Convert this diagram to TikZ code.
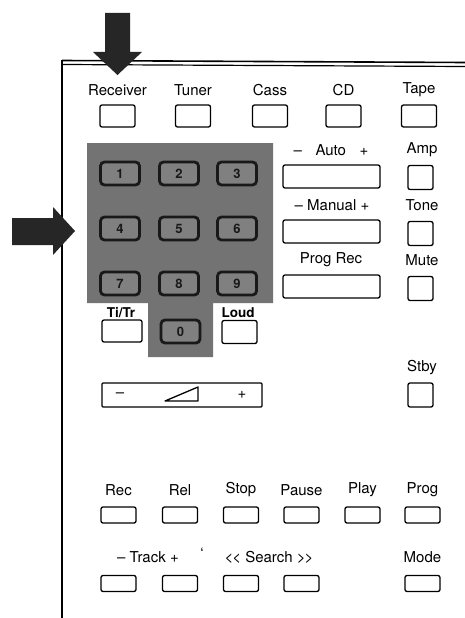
\documentclass[tikz,border=0pt]{standalone}
\usepackage{fontspec}
\setsansfont{TeX Gyre Heros}
\renewcommand{\familydefault}{\sfdefault}
\begin{document}
\begin{tikzpicture}[x=1pt,y=-1pt,
  lbl/.style={inner sep=0pt, font=\fontsize{15}{17}\selectfont},
  slbl/.style={inner sep=0pt, font=\fontsize{13.5}{15}\selectfont\bfseries},
  btn/.style={draw, line width=1.3pt, rounded corners=2pt, inner sep=0pt, fill=white},
  topbtn/.style={btn, minimum width=35pt, minimum height=22pt},
  widebtn/.style={btn, minimum width=97pt, minimum height=23pt},
  sqbtn/.style={btn, minimum width=25pt, minimum height=24pt},
  lowbtn/.style={btn, minimum width=35pt, minimum height=16pt},
  keybtn/.style={draw=black!90, line width=2.8pt, rounded corners=4pt, inner sep=0pt,
     minimum width=39pt, minimum height=23pt, fill=black!50, text=black!90,
     font=\fontsize{13}{14}\selectfont\bfseries},
  bigarrow/.style={fill=black!85, draw=none}
]
\useasboundingbox (0,0) rectangle (465,618);
\fill[white] (0,0) rectangle (465,618);

% frame
\draw[line width=1.8pt] (62,60) -- (62,618);
\draw[line width=1.6pt] (62,60.5) -- (465,62.5);
\draw[line width=1.2pt] (62,64.5) -- (465,66.5);

% down arrow
\fill[bigarrow] (105,13) -- (130,13) -- (130,52) -- (142,52) -- (117.5,75) -- (93,52) -- (105,52) -- cycle;
% right arrow
\fill[bigarrow] (12,218) -- (53,218) -- (53,207) -- (75,231) -- (53,255) -- (53,245) -- (12,245) -- cycle;

% top row
\foreach \n/\t/\x in {receiver/Receiver/117.5, tuner/Tuner/193, cass/Cass/270, cd/CD/343.5, tape/Tape/419} {
  \node[lbl] (\n L) at (\x,90) {\t};
  \node[topbtn] (\n) at (\x,116) {};
}

% keypad
\fill[black!55] (87,143) -- (273,143) -- (273,303) -- (213,303) -- (213,357) -- (148,357) -- (148,303) -- (87,303) -- cycle;
\node[keybtn] (k1) at (120,173.5) {1};
\node[keybtn] (k2) at (179,173.5) {2};
\node[keybtn] (k3) at (237,173.5) {3};
\node[keybtn] (k4) at (120,228.5) {4};
\node[keybtn] (k5) at (179,228.5) {5};
\node[keybtn] (k6) at (237,228.5) {6};
\node[keybtn] (k7) at (120,283.5) {7};
\node[keybtn] (k8) at (179,283.5) {8};
\node[keybtn] (k9) at (237,283.5) {9};
\node[keybtn] (k0) at (180.5,331.5) {0};

\node[slbl] (titrL) at (121,313) {Ti/Tr};
\node[btn, minimum width=40pt, minimum height=22pt] (titr) at (122,331) {};
\node[slbl] (loudL) at (238,313) {Loud};
\node[btn, minimum width=35pt, minimum height=23pt] (loud) at (239.5,332) {};

% right block
\node[lbl] (autoL) at (331,150) {–\hspace{0.9em}Auto\hspace{0.9em}+};
\node[widebtn] (auto) at (331.5,176.5) {};
\node[lbl] (manualL) at (332,205) {– Manual +};
\node[widebtn] (manual) at (331.5,231.5) {};
\node[lbl] (progrecL) at (331,260) {Prog Rec};
\node[widebtn] (progrec) at (331.5,286.5) {};

\node[lbl] (ampL) at (422,150) {Amp};
\node[sqbtn] (amp) at (420.5,177.5) {};
\node[lbl] (toneL) at (422,205) {Tone};
\node[sqbtn] (tone) at (420.5,233.5) {};
\node[lbl] (muteL) at (422,260) {Mute};
\node[sqbtn] (mute) at (420.5,288.5) {};
\node[lbl] (stbyL) at (422,368) {Stby};
\node[sqbtn] (stby) at (420.5,395) {};

% volume
\node[draw, line width=1.3pt, rounded corners=1pt, minimum width=160pt, minimum height=24pt, inner sep=0pt] (volume) at (182,395) {};
\node[lbl] (volminus) at (120,395) {–};
\node[lbl] (volplus) at (242,395) {+};
\draw[line width=1.3pt, line join=round] (165,401) -- (198,401) -- (198,387) -- cycle;

% bottom rows
\foreach \n/\t/\x in {rec/Rec/118.5, rel/Rel/180, stop/Stop/241, pause/Pause/301.5, play/Play/362.5, prog/Prog/422.5} {
  \node[lbl] (\n L) at (\x,490) {\t};
  \node[lowbtn] (\n) at (\x,515) {};
}
\node[lbl] (trackL) at (148,557) {– Track +};
\node[lbl] (tickL) at (202,553) {‘};
\node[lbl] (searchL) at (269,557) {<\kern-1pt< Search >\kern-1pt>};
\node[lbl] (modeL) at (422.5,557) {Mode};
\node[lowbtn] (trackm) at (118.5,583.5) {};
\node[lowbtn] (trackp) at (180,583.5) {};
\node[lowbtn] (searchm) at (241,583.5) {};
\node[lowbtn] (searchp) at (301.5,583.5) {};
\node[lowbtn] (mode) at (422.5,583.5) {};
\end{tikzpicture}
\end{document}
